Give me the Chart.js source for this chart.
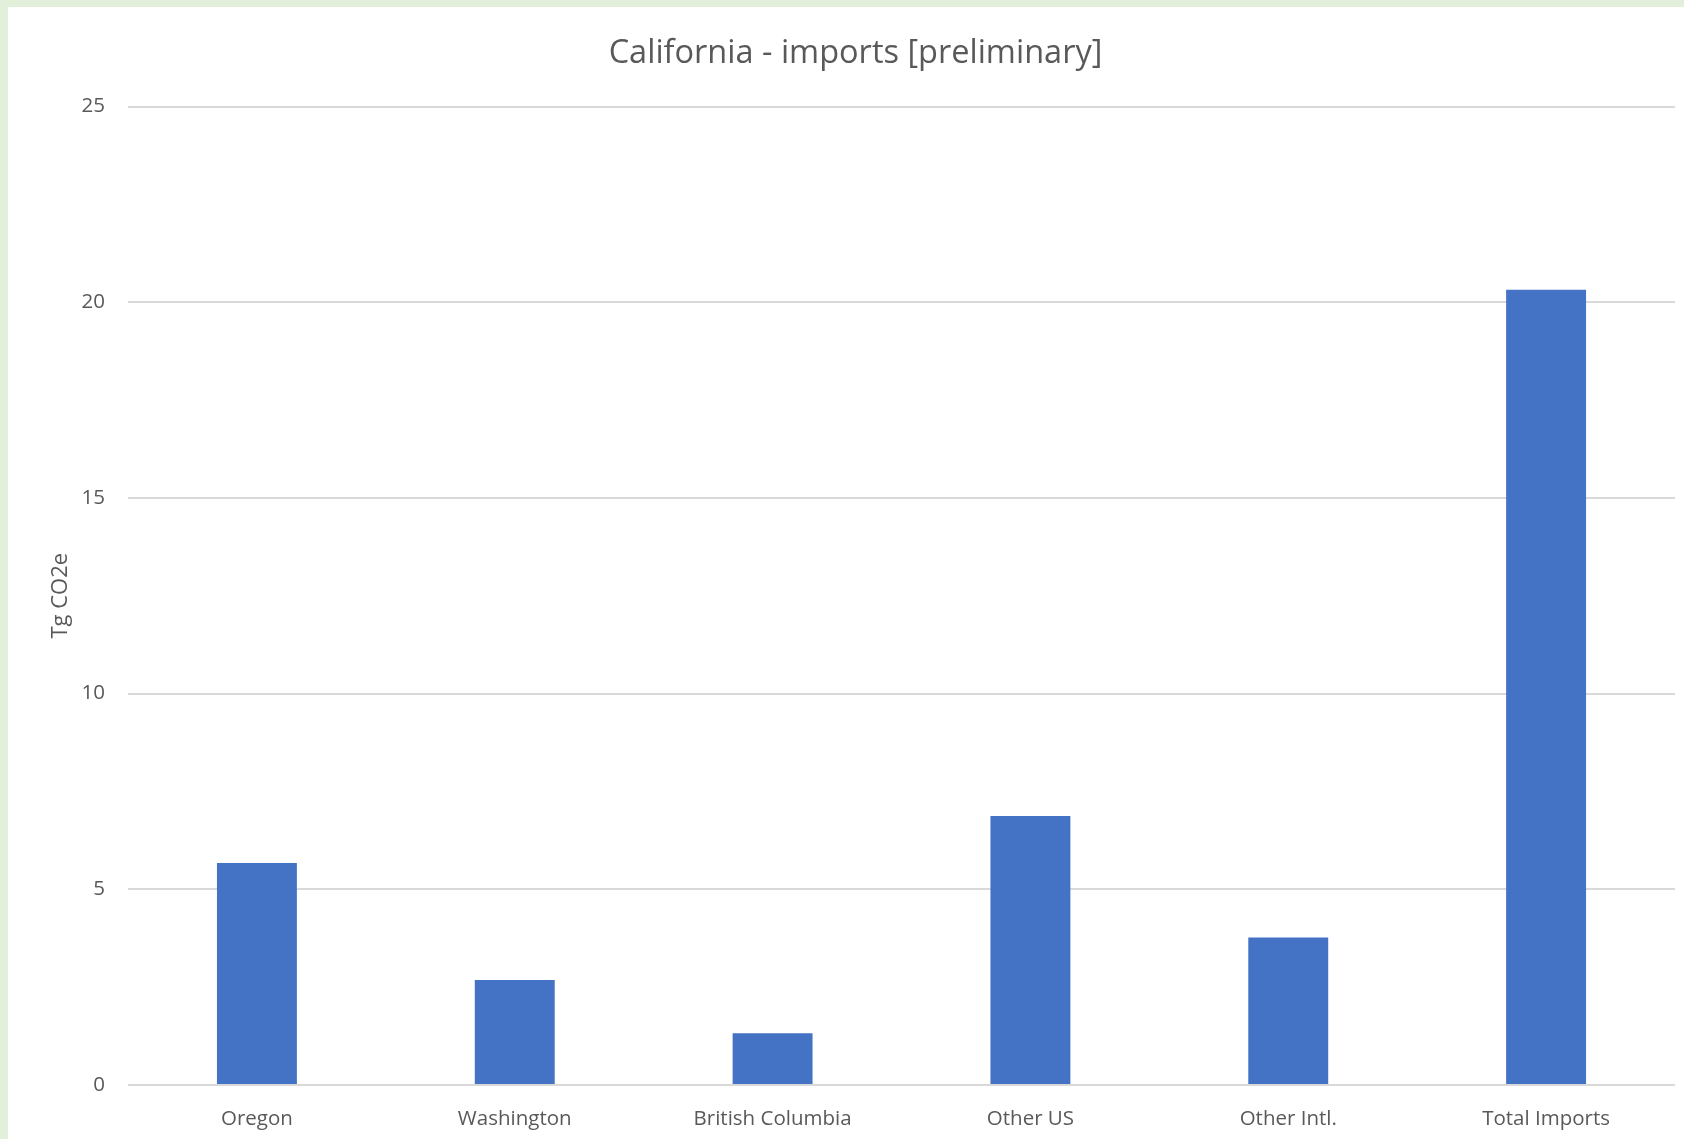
<!DOCTYPE html>
<html>
<head>
<meta charset="utf-8">
<script src="https://cdn.jsdelivr.net/npm/chart.js@4"></script>
<style>
  html, body { margin: 0; padding: 0; background: #E2EFDA; width: 1684px; height: 1139px; overflow: hidden; }
  #wrap { position: absolute; left: 8px; top: 7px; width: 1704px; height: 1132px; background: #ffffff; }
</style>
</head>
<body>
<div id="wrap"><canvas id="c"></canvas></div>
<script>
const categories = ["Oregon", "Washington", "British Columbia", "Other US", "Other Intl.", "Total Imports"];
const values = [5.67, 2.68, 1.32, 6.87, 3.77, 20.32];
const yTicks = [0, 5, 10, 15, 20, 25];
const chartTitle = "California - imports [preliminary]";
const yTitle = "Tg CO2e";

const textColor = "#595959";
const gridColor = "#D9D9D9";
const fontFamily = "'Open Sans', 'Noto Sans', sans-serif";

new Chart(document.getElementById("c"), {
  type: "bar",
  data: {
    labels: categories,
    datasets: [{
      data: values,
      yAxisID: "y",
      backgroundColor: "#4472C4",
      borderWidth: 0,
      categoryPercentage: 1,
      barPercentage: 0.31
    }]
  },
  options: {
    responsive: true,
    maintainAspectRatio: false,
    animation: false,
    devicePixelRatio: 1,
    layout: { padding: { left: 0, right: 9, top: 0, bottom: 0 } },
    plugins: {
      legend: { display: false },
      tooltip: { enabled: false },
      title: {
        display: true,
        text: chartTitle,
        color: textColor,
        font: { family: fontFamily, size: 32.5, weight: "normal", lineHeight: 1.2 },
        padding: { top: 27, bottom: 33.5 }
      }
    },
    scales: {
      x: {
        grid: { display: false },
        border: { display: false },
        ticks: {
          color: textColor,
          font: { family: fontFamily, size: 20.5 },
          padding: 14,
          maxRotation: 0,
          autoSkip: false
        },
        afterFit: (s) => { s.height = 54; }
      },
      y: {
        min: 0,
        max: 25,
        afterBuildTicks: (s) => { s.ticks = yTicks.map(v => ({ value: v })); },
        grid: { color: gridColor, lineWidth: 2, drawTicks: false },
        border: { display: false },
        ticks: {
          color: textColor,
          font: { family: fontFamily, size: 20.5 },
          padding: 23
        },
        title: {
          display: true,
          text: yTitle,
          color: textColor,
          font: { family: fontFamily, size: 22 },
          padding: { top: 40, bottom: 0 }
        },
        afterFit: (s) => { s.width = 120; }
      },
      yRight: {
        position: "right",
        min: 0,
        max: 25,
        grid: { display: false, drawTicks: false },
        border: { display: false },
        ticks: { display: false },
        afterFit: (s) => { s.width = 28; }
      }
    }
  }
});
</script>
</body>
</html>
